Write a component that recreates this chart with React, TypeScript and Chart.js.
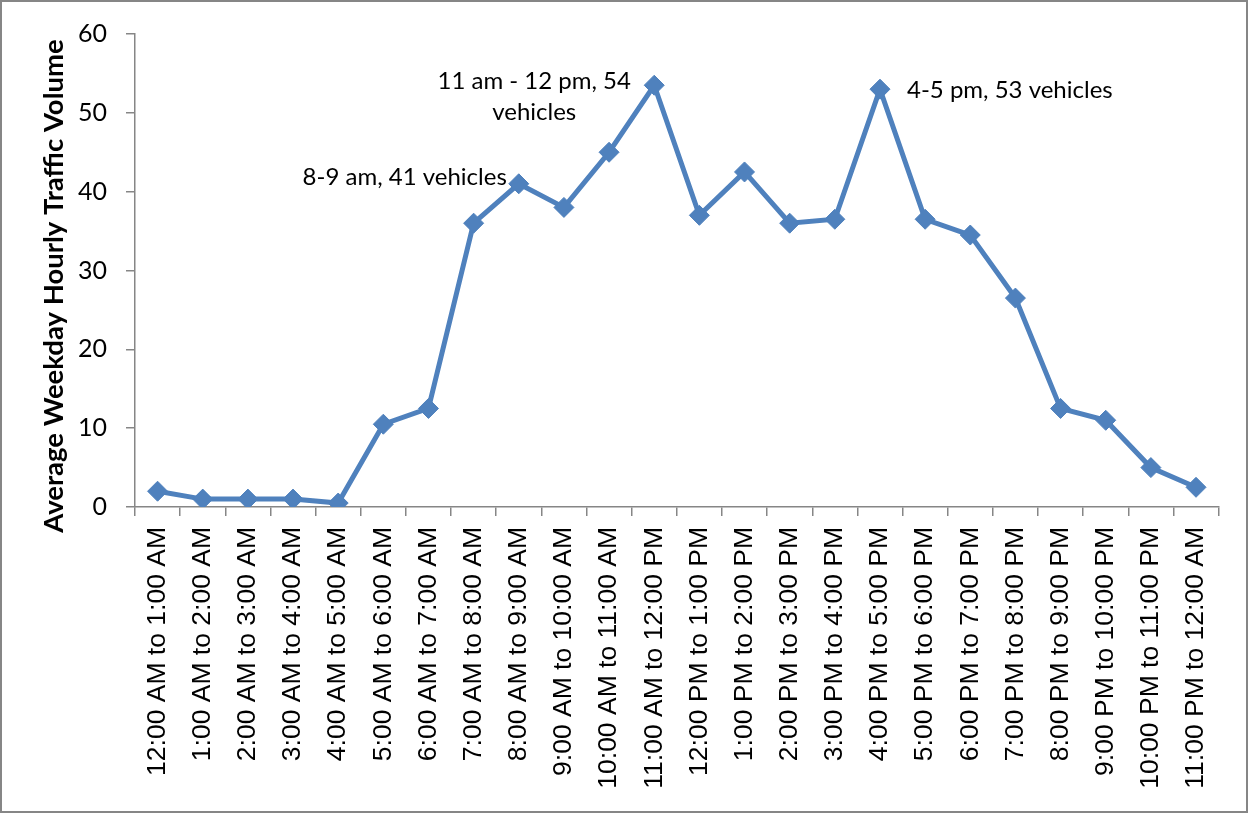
import React, { useEffect, useRef } from "react";
import { Chart, registerables } from "chart.js";

Chart.register(...registerables);

const categories = [
  "12:00 AM to 1:00 AM",
  "1:00 AM to 2:00 AM",
  "2:00 AM to 3:00 AM",
  "3:00 AM to 4:00 AM",
  "4:00 AM to 5:00 AM",
  "5:00 AM to 6:00 AM",
  "6:00 AM to 7:00 AM",
  "7:00 AM to 8:00 AM",
  "8:00 AM to 9:00 AM",
  "9:00 AM to 10:00 AM",
  "10:00 AM to 11:00 AM",
  "11:00 AM to 12:00 PM",
  "12:00 PM to 1:00 PM",
  "1:00 PM to 2:00 PM",
  "2:00 PM to 3:00 PM",
  "3:00 PM to 4:00 PM",
  "4:00 PM to 5:00 PM",
  "5:00 PM to 6:00 PM",
  "6:00 PM to 7:00 PM",
  "7:00 PM to 8:00 PM",
  "8:00 PM to 9:00 PM",
  "9:00 PM to 10:00 PM",
  "10:00 PM to 11:00 PM",
  "11:00 PM to 12:00 AM",
];

const volumes = [
  2, 1, 1, 1, 0.5, 10.5, 12.5, 36, 41, 38, 45, 53.5, 37, 42.5, 36, 36.5, 53,
  36.5, 34.5, 26.5, 12.5, 11, 5, 2.5,
];

const yMin = 0;
const yMax = 60;
const yStep = 10;

const yTitle = "Average Weekday Hourly Traffic Volume";

const labelIndices = [8, 11, 16];
const labelTexts = [
  ["8-9 am, 41 vehicles"],
  ["11 am - 12 pm, 54", "vehicles"],
  ["4-5 pm, 53 vehicles"],
];

const W = 1249;
const H = 813;
const LINE_COLOR = "#4F81BD";
const AXIS_COLOR = "#868686";
const CAL_FONT = "Lato, 'Open Sans', sans-serif";

const decorPlugin = {
  id: "decor",
  beforeDraw(chart: any) {
    const ctx = chart.ctx;
    ctx.save();
    ctx.fillStyle = "#ffffff";
    ctx.fillRect(0, 0, W, H);
    ctx.restore();
  },
  afterDraw(chart: any) {
    const ctx = chart.ctx;
    const x = chart.scales.x;
    const y = chart.scales.y;
    ctx.save();
    // outer border
    ctx.strokeStyle = AXIS_COLOR;
    ctx.lineWidth = 2;
    ctx.strokeRect(1, 1, W - 3, H - 2);

    // y-axis title
    ctx.fillStyle = "#000000";
    ctx.font = `bold 27.5px ${CAL_FONT}`;
    ctx.textAlign = "center";
    ctx.textBaseline = "middle";
    ctx.translate(54, 286);
    ctx.rotate(-Math.PI / 2);
    ctx.fillText(yTitle, 0, 0);
    ctx.restore();

    // annotations
    ctx.save();
    ctx.fillStyle = "#000000";
    ctx.font = `24px ${CAL_FONT}`;
    ctx.textBaseline = "alphabetic";
    const offsets = [
      { dx: -12, dy: 1, align: "right" },
      { dx: -120, dy: 3.5, align: "center" },
      { dx: 27, dy: 9, align: "left" },
    ];
    labelIndices.forEach((idx, i) => {
      const px = x.getPixelForValue(idx);
      const py = y.getPixelForValue(volumes[idx]);
      const o = offsets[i];
      ctx.textAlign = o.align;
      labelTexts[i].forEach((line, li) => {
        ctx.fillText(line, px + o.dx, py + o.dy + li * 31);
      });
    });
    ctx.restore();
  },
};

export default function App() {
  const canvasRef = useRef<HTMLCanvasElement | null>(null);

  useEffect(() => {
    const canvas = canvasRef.current;
    if (!canvas) return;
    const chart = new Chart(canvas, {
      type: "line",
      data: {
        labels: categories,
        datasets: [
          {
            data: volumes,
            borderColor: LINE_COLOR,
            backgroundColor: LINE_COLOR,
            borderWidth: 5,
            pointStyle: "rectRot",
            pointRadius: 10,
            pointBorderWidth: 1,
            pointBackgroundColor: LINE_COLOR,
            pointBorderColor: LINE_COLOR,
            tension: 0,
          },
        ],
      },
      options: {
        responsive: false,
        animation: false,
        devicePixelRatio: 1,
        layout: { padding: { left: 0, top: 31, right: 30.4, bottom: 0 } },
        plugins: {
          legend: { display: false },
          tooltip: { enabled: false },
          title: { display: false },
        },
        scales: {
          x: {
            type: "category",
            offset: true,
            grid: {
              offset: true,
              drawOnChartArea: false,
              drawTicks: true,
              tickLength: 9,
              color: AXIS_COLOR,
              lineWidth: 1.5,
            },
            border: { display: true, color: AXIS_COLOR, width: 1.5 },
            ticks: {
              autoSkip: false,
              minRotation: 90,
              maxRotation: 90,
              padding: 11,
              color: "#000000",
              font: { family: "'Liberation Sans', Arial, sans-serif", size: 26.5 },
            },
            afterFit(scale: any) {
              scale.height = 306;
            },
          },
          y: {
            min: yMin,
            max: yMax,
            grid: {
              drawOnChartArea: false,
              drawTicks: true,
              tickLength: 9,
              color: AXIS_COLOR,
              lineWidth: 1.5,
            },
            border: { display: true, color: AXIS_COLOR, width: 1.5 },
            ticks: {
              stepSize: yStep,
              padding: 19,
              color: "#000000",
              font: { family: CAL_FONT, size: 25 },
            },
            afterFit(scale: any) {
              scale.width = 135;
            },
          },
        },
      },
      plugins: [decorPlugin],
    });
    return () => chart.destroy();
  }, []);

  return (
    <div style={{ position: "fixed", left: 0, top: 0, width: W, height: H, background: "#fff" }}>
      <canvas ref={canvasRef} width={W} height={H} style={{ width: W, height: H, display: "block" }} />
    </div>
  );
}
